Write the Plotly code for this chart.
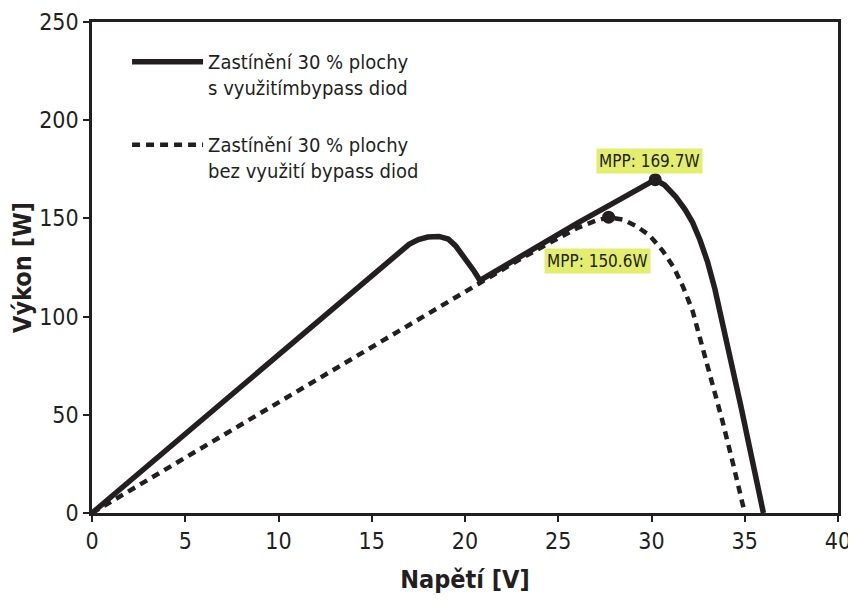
import plotly.graph_objects as go

# ---- data ----
v_bypass = [0, 2, 4, 6, 8, 10, 12, 14, 15, 16, 16.5, 17, 17.5, 18, 18.6, 19.1, 19.5,
            20.1, 20.5, 20.8, 22, 24, 26, 28, 29.2, 30.2, 30.7, 31.3, 31.8, 32.2,
            32.6, 33.0, 33.4, 33.8, 34.3, 34.8, 35.3, 35.7, 36.0]
p_bypass = [0, 16.2, 32.4, 48.6, 64.8, 81, 97.2, 113.4, 121.5, 129.6, 133.5, 136.8,
            139.2, 140.5, 140.8, 139.5, 136, 128.6, 123, 118.4, 125.2, 136.6, 147.5,
            158, 164.3, 169.7, 167, 161, 154.5, 148, 139, 128, 114, 97.5, 76, 54,
            31.5, 13.5, 0]

v_nobypass = [0, 2, 4, 6, 8, 10, 12, 14, 16, 18, 20, 21, 22, 23, 24, 25, 26, 27, 27.7,
              28.5, 29.2, 29.9, 30.6, 31.2, 31.7, 32.2, 32.7, 33.2, 33.8, 34.4, 35.0]
p_nobypass = [0, 11.3, 22.6, 33.9, 45.2, 56.5, 67.8, 79.1, 90.4, 101.7, 113, 118.6,
              124, 129.5, 134.8, 140.2, 145, 148.8, 150.6, 149.3, 146, 141.3, 133.5,
              125, 115, 103, 86, 68, 47, 24, 0]

mpp_v = [30.2, 27.7]
mpp_p = [169.7, 150.6]
mpp_labels = ["MPP: 169.7W", "MPP: 150.6W"]

series_names = ["Zastínění 30 % plochy<br>s využitímbypass diod",
                "Zastínění 30 % plochy<br>bez využití bypass diod"]

x_ticks = [0, 5, 10, 15, 20, 25, 30, 35, 40]
y_ticks = [0, 50, 100, 150, 200, 250]

INK = "#231f20"
FONT = "DejaVu Sans Condensed, Liberation Sans Narrow, Roboto Condensed, Roboto, sans-serif"

fig = go.Figure()
fig.add_trace(go.Scatter(x=v_bypass, y=p_bypass, mode="lines", name=series_names[0],
                         line=dict(color=INK, width=5.5), legendgroup="a"))
fig.add_trace(go.Scatter(x=v_nobypass, y=p_nobypass, mode="lines", name=series_names[1],
                         line=dict(color=INK, width=4.5, dash="8px,6px"), legendgroup="b"))
fig.add_trace(go.Scatter(x=mpp_v, y=mpp_p, mode="markers", showlegend=False,
                         marker=dict(color=INK, size=13)))

# MPP labels
offsets = [(-0.3, 9.5), (-0.6, -22.5)]
for xv, yv, txt, (dx, dy) in zip(mpp_v, mpp_p, mpp_labels, offsets):
    fig.add_annotation(x=xv + dx, y=yv + dy, text=txt, showarrow=False,
                       font=dict(family=FONT, size=17, color=INK),
                       bgcolor="#e4ee6e", borderpad=2)

# page body adds an 8px margin, so the figure is sized to fit the 856x603 window
fig.update_layout(
    width=848, height=587,
    margin=dict(l=84, r=18, t=14, b=82),
    paper_bgcolor="white", plot_bgcolor="white",
    font=dict(family=FONT, color=INK),
    legend=dict(x=0.047, y=0.959, xanchor="left", yanchor="top",
                font=dict(family=FONT, size=20, color=INK),
                itemwidth=71, valign="top", tracegroupgap=28,
                bgcolor="rgba(0,0,0,0)"),
    xaxis=dict(range=[0, 40], tickvals=x_ticks, showgrid=False, zeroline=False,
               showline=True, mirror=True, linecolor=INK, linewidth=2.5,
               ticks="outside", ticklen=6, tickwidth=2, tickcolor=INK,
               automargin=False, ticklabeloverflow="allow",
               tickfont=dict(family=FONT, size=23, color=INK),
               title=dict(text="<b>Napětí [V]</b>", font=dict(family=FONT, size=25, color=INK),
                          standoff=18)),
    yaxis=dict(range=[0, 250], tickvals=y_ticks, showgrid=False, zeroline=False,
               showline=True, mirror=True, linecolor=INK, linewidth=2.5,
               ticks="outside", ticklen=6, tickwidth=2, tickcolor=INK,
               automargin=False, ticklabeloverflow="allow",
               tickfont=dict(family=FONT, size=23, color=INK),
               title=dict(text="<b>Výkon [W]</b>", font=dict(family=FONT, size=25, color=INK),
                          standoff=2)),
)

fig.write_html("out.html")
